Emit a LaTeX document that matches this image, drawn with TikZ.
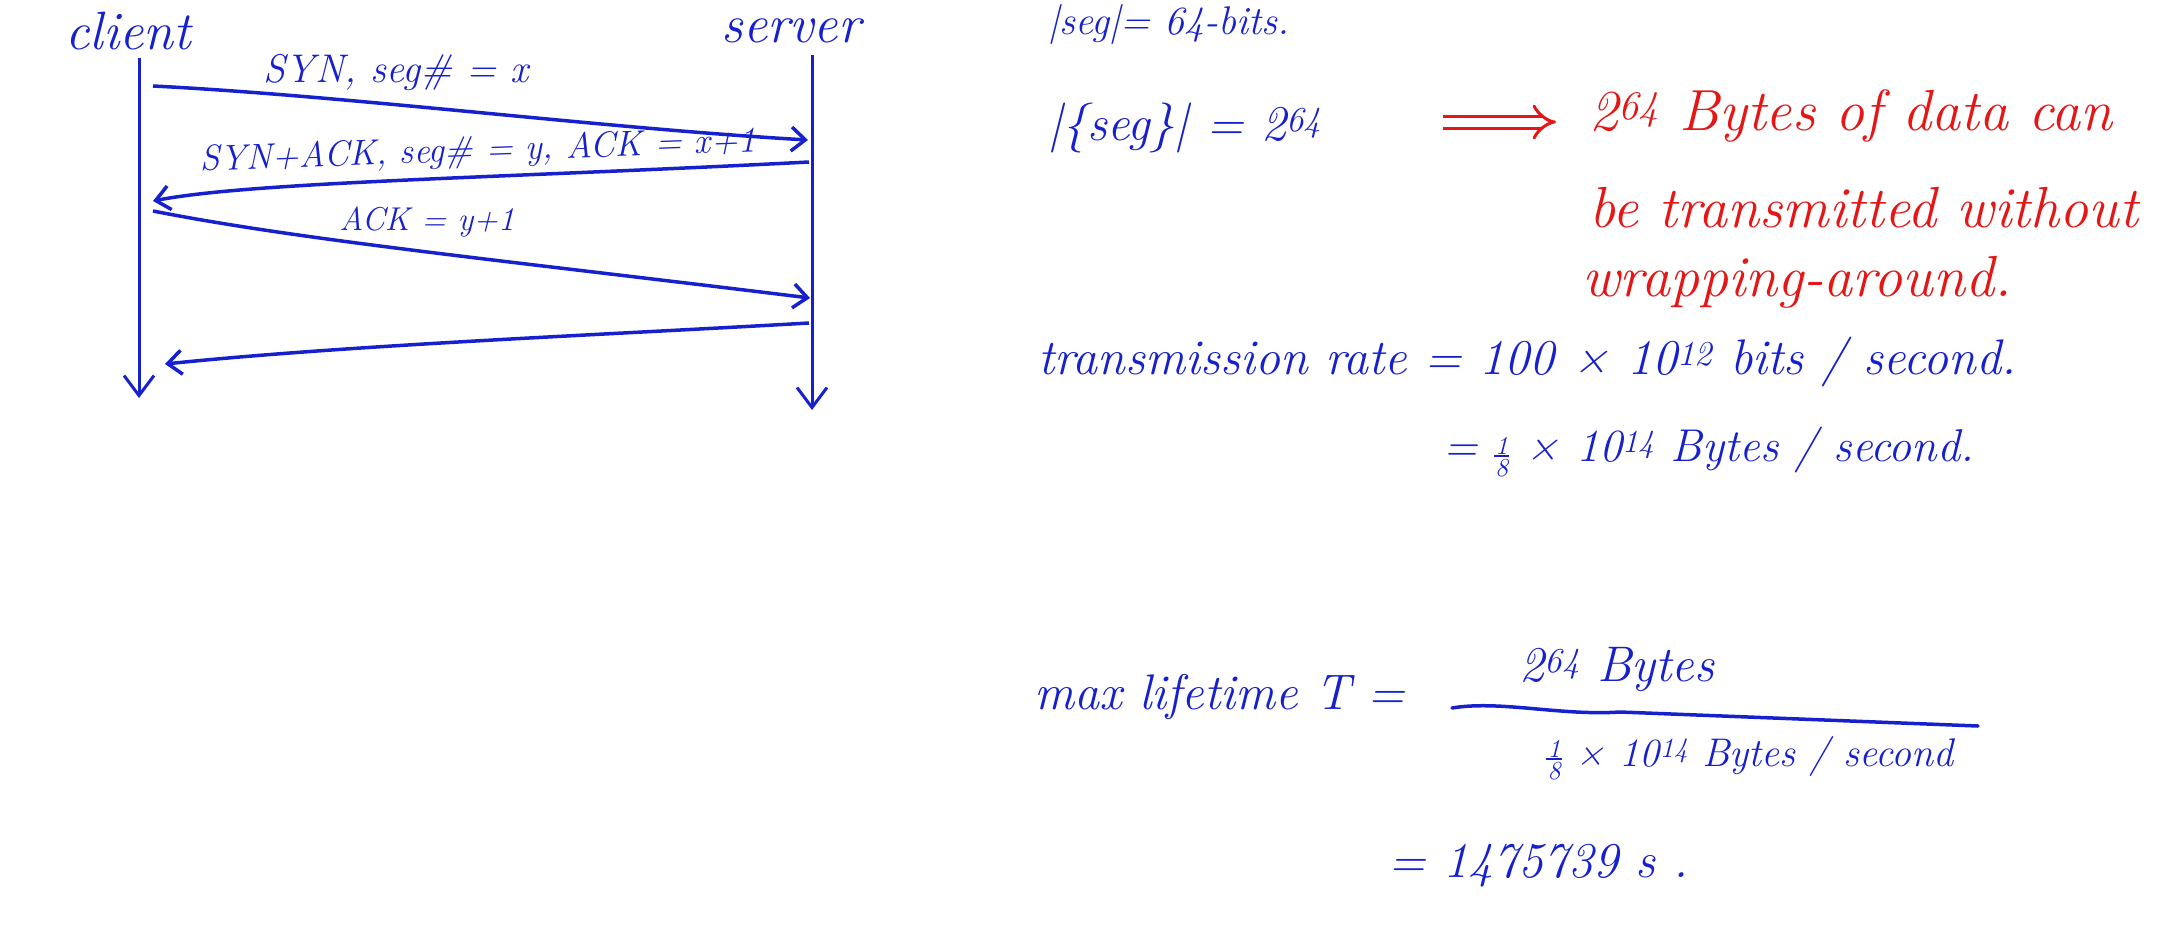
\documentclass[tikz,border=0pt]{standalone}
\usepackage{fontspec}
\usetikzlibrary{arrows.meta}
\definecolor{ink}{RGB}{22,32,205}
\definecolor{redink}{RGB}{228,22,22}
\newcommand{\myeighth}{\raisebox{-0.32em}{\fontsize{26}{26}\selectfont\vbox{\hbox to 0.6em{\hss 1\hss}\kern1pt\hrule height 1.8pt\kern2pt\hbox to 0.6em{\hss 8\hss}}}}
\newcommand{\mysup}[1]{\textsuperscript{#1}}
\tikzset{
  lifeline/.style={draw=ink, line width=3pt, -{Straight Barb[length=20pt,width=30pt,line width=3pt]}},
  msg/.style={draw=ink, line width=3.5pt, -{Straight Barb[length=14pt,width=24pt,line width=3.5pt]}},
  htxt/.style={text=ink, inner sep=0pt, font=\fontsize{54}{62}\selectfont\itshape},
  btxt/.style={text=ink, inner sep=0pt, font=\fontsize{50}{58}\selectfont\itshape},
  stxt/.style={text=ink, inner sep=0pt, font=\fontsize{40}{48}\selectfont\itshape},
  mtxt/.style={text=ink, inner sep=0pt, font=\fontsize{36}{42}\selectfont\itshape},
  rtxt/.style={text=redink, inner sep=0pt, font=\fontsize{58}{66}\selectfont\itshape},
  fracline/.style={draw=ink, line width=3.5pt, line cap=round},
  implies/.style={draw=redink, line width=3pt, double distance=9pt, -{Implies}},
}
\begin{document}
\begin{tikzpicture}[x=1pt,y=-1pt]
\useasboundingbox (0,0) rectangle (2176,945);
% headers
\node[htxt] (client) at (128,31) {client};
\node[htxt] (server) at (791,31) {server};
% lifelines
\coordinate (cTop) at (139,58);
\coordinate (cBot) at (139,398);
\coordinate (sTop) at (812,55);
\coordinate (sBot) at (812,410);
\draw[lifeline] (cTop) -- (cBot);
\draw[lifeline] (sTop) -- (sBot);
% messages
\coordinate (m1s) at (153,86);
\coordinate (m1e) at (808,140);
\coordinate (m2s) at (809,162);
\coordinate (m2e) at (153,201);
\coordinate (m3s) at (153,211);
\coordinate (m3e) at (810,298);
\coordinate (m4s) at (809,323);
\coordinate (m4e) at (165,364);
\draw[msg] (m1s) .. controls (350,96) and (600,128) .. (m1e);
\draw[msg] (m2s) .. controls (500,178) and (250,182) .. (m2e);
\draw[msg] (m3s) .. controls (300,240) and (500,260) .. (m3e);
\draw[msg] (m4s) .. controls (600,335) and (350,345) .. (m4e);
\node[mtxt, font=\fontsize{40}{46}\selectfont\itshape] (l1) at (396,72) {SYN, seg\# = x};
\node[mtxt, rotate=2] (l2) at (478,152) {SYN+ACK, seg\# = y, ACK = x+1};
\node[mtxt, font=\fontsize{33}{40}\selectfont\itshape] (l3) at (427,222) {ACK = y+1};
% right side
\node[stxt, anchor=west] (seg1) at (1048,24) {|seg|= 64-bits.};
\node[btxt, anchor=west] (seg2) at (1048,128) {|\{seg\}| = 2\mysup{64}};
\coordinate (ia) at (1443,122);
\coordinate (ib) at (1556,122);
\draw[implies] (ia) -- (ib);
\node[rtxt, anchor=west] (r1) at (1589,116) {2\mysup{64} Bytes of data can};
\node[rtxt, anchor=west] (r2) at (1589,208) {be transmitted without};
\node[rtxt, anchor=west] (r3) at (1582,282) {wrapping-around.};
\node[btxt, anchor=west] (rate1) at (1038,362) {transmission rate = 100 × 10\mysup{12} bits / second.};
\node[btxt, anchor=west, font=\fontsize{46}{54}\selectfont\itshape] (rate2) at (1443,452) {= \myeighth{} × 10\mysup{14} Bytes / second.};
\node[btxt, anchor=west] (tl) at (1034,697) {max lifetime T =};
\coordinate (fa) at (1452,708);
\coordinate (fb) at (1978,726);
\draw[fracline] (fa) .. controls (1500,700) and (1560,716) .. (1620,712) -- (fb);
\node[btxt] (num) at (1617,670) {2\mysup{64} Bytes};
\node[stxt] (den) at (1750,758) {\myeighth{} × 10\mysup{14} Bytes / second};
\node[btxt, anchor=west] (res) at (1388,866) {= 1475739 s .};
\end{tikzpicture}
\end{document}
